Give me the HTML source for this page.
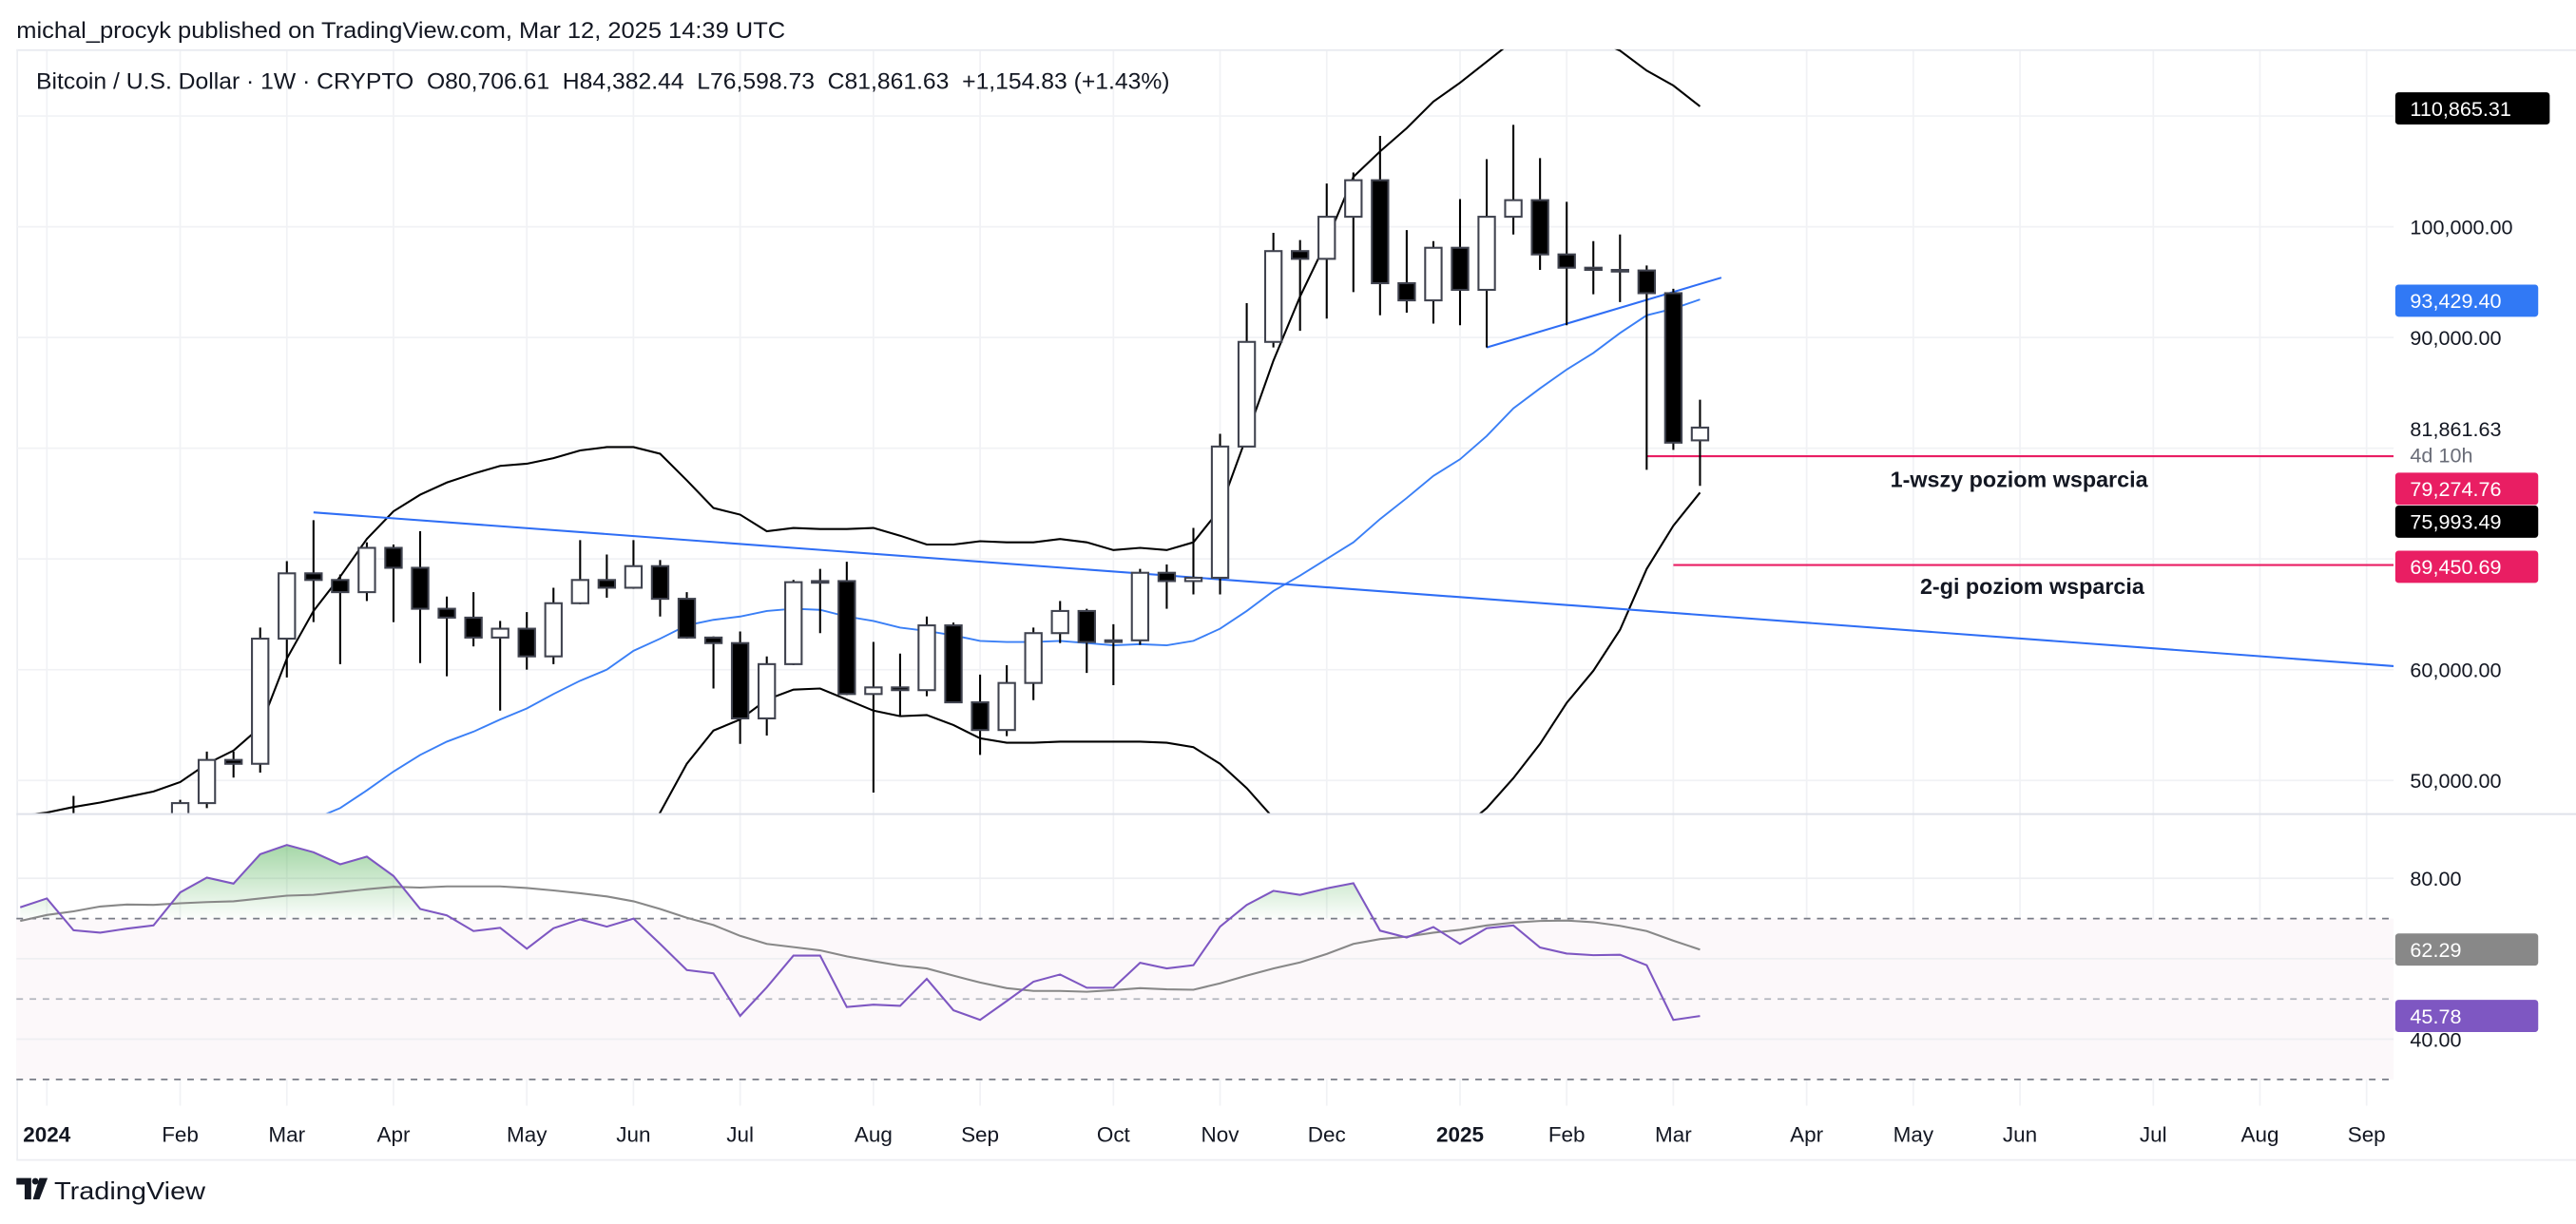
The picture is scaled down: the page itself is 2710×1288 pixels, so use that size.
<!DOCTYPE html>
<html><head><meta charset="utf-8"><title>BTCUSD weekly</title>
<style>
html,body{margin:0;padding:0;background:#fff;}
svg{display:block;font-family:"Liberation Sans",sans-serif;}
</style></head>
<body>
<svg id="chart" xmlns="http://www.w3.org/2000/svg" width="2710" height="1288" viewBox="0 0 1568 745" preserveAspectRatio="none">
  <defs>
    <clipPath id="pricePane"><rect x="10" y="30" width="1447" height="465"/></clipPath>
    <clipPath id="rsiPane"><rect x="10" y="496" width="1447" height="178"/></clipPath>
    <clipPath id="above70"><rect x="10" y="496" width="1447" height="63.1"/></clipPath>
    <linearGradient id="greenFill" gradientUnits="userSpaceOnUse" x1="0" y1="510" x2="0" y2="559">
      <stop offset="0" stop-color="#4caf50" stop-opacity="0.55"/>
      <stop offset="1" stop-color="#4caf50" stop-opacity="0.02"/>
    </linearGradient>
  </defs>
  <rect x="0" y="0" width="1568" height="745" fill="#ffffff"/>
  <text x="10" y="23" font-size="14" fill="#131722" textLength="468" lengthAdjust="spacingAndGlyphs">michal_procyk published on TradingView.com, Mar 12, 2025 14:39 UTC</text>
  <line x1="10" y1="30.5" x2="1568" y2="30.5" stroke="#e8eaef" stroke-width="1"/>
  <line x1="10.5" y1="30" x2="10.5" y2="706" stroke="#eceef2" stroke-width="1"/>
  <g id="grid"></g>
  <rect x="10" y="559.1" width="1447" height="97.9" fill="#fcf8fa"/>
  <g id="rsiGrid"></g>
  <g id="price" clip-path="url(#pricePane)"></g>
  <g id="rsi" clip-path="url(#rsiPane)"></g>
  <line x1="10" y1="495.5" x2="1568" y2="495.5" stroke="#dfe2ea" stroke-width="1.2"/>
  <line x1="10" y1="706" x2="1568" y2="706" stroke="#eceef2" stroke-width="1"/>
  <text x="22" y="54" font-size="14" fill="#131722" textLength="690" lengthAdjust="spacingAndGlyphs">Bitcoin / U.S. Dollar · 1W · CRYPTO&#160;&#160;O80,706.61&#160;&#160;H84,382.44&#160;&#160;L76,598.73&#160;&#160;C81,861.63&#160;&#160;+1,154.83 (+1.43%)</text>
  <g id="axis"></g>
  <text x="1229" y="296.5" font-size="13.5" font-weight="bold" text-anchor="middle" fill="#131722">1-wszy poziom wsparcia</text>
  <text x="1237" y="361.5" font-size="13.5" font-weight="bold" text-anchor="middle" fill="#131722">2-gi poziom wsparcia</text>
  <g>
    <path d="M10 717 h9 v13 h-4 v-9 h-5 z" fill="#131722"/>
    <circle cx="21.5" cy="719" r="2" fill="#131722"/>
    <path d="M24 717 h5 l-5 13 h-4 z" fill="#131722"/>
    <text x="33" y="730" font-size="15" fill="#131722" textLength="92" lengthAdjust="spacingAndGlyphs">TradingView</text>
  </g>
</svg>
<script>
const openP  = [42500,42280,44000,41800,41600,42000,42600,47950,51850,51500,62800,68700,68100,67000,71000,69200,65500,64700,62900,63700,61200,66000,68100,67400,69350,66400,62900,62400,55600,60500,67900,68000,57800,58400,58150,64000,57050,54550,58800,63300,65300,62500,62650,68750,68000,68300,80150,89600,97800,97100,100900,104200,94900,93350,98100,94300,100900,102400,97500,96300,96100,96050,94000,80706.61];
const highP  = [43800,45900,48600,43500,42200,43900,48250,52600,52600,63800,69800,73500,68600,71500,71300,72500,66600,67000,64400,65200,67400,71700,70400,71700,69900,67000,63000,63450,61200,68100,69100,69750,62500,61450,64800,64250,59550,60400,63800,66200,65500,64100,69100,69500,72800,81300,93100,99450,98800,103900,104900,108200,99700,98700,102500,106100,109200,106200,102250,98700,99300,96500,94400,84382.44];
const lowP   = [41600,40750,41500,40300,38500,41800,42300,47500,50250,50700,59300,64300,60500,66200,64300,60600,59400,62100,56300,60000,60500,65900,66500,67300,64800,62800,58300,53300,54050,60400,63300,57700,48900,55800,57600,57000,52300,54000,57250,62400,59700,58600,62250,65500,66800,66800,80150,89100,90600,91700,94100,92000,92240,91250,91100,89100,99300,96100,91100,93900,93200,78050,79850,76598.73];
const closeP = [42280,44000,41800,41600,42000,42600,47950,51850,51500,62800,68700,68100,67000,71000,69200,65500,64700,62900,63700,61200,66000,68100,67400,69350,66400,62900,62400,55600,60500,67900,68000,57800,58400,58150,64000,57050,54550,58800,63300,65300,62500,62650,68750,68000,68300,80150,89600,97800,97100,100900,104200,94900,93350,98100,94300,100900,102400,97500,96300,96100,96100,94000,80500,81861.63];
const bbUpper = [46800,47100,47600,48000,48500,49000,49850,51500,52700,54800,61000,65300,68400,71800,74300,75800,76900,77700,78400,78600,79100,79800,80100,80100,79500,77100,74600,74000,72500,72800,72700,72700,72800,72100,71300,71300,71600,71500,71500,71800,71500,70800,71000,70800,71500,74500,81100,87900,93700,98700,104500,106800,108900,111300,113000,114900,116800,117500,117500,117000,115900,114100,112750,110865.31];
const bbBasis = [41000,41400,41800,42200,42500,42800,43100,43700,44300,45000,45700,46500,47500,49100,50800,52300,53500,54400,55500,56500,57800,59000,60000,61700,62800,64000,64500,64800,65300,65500,65400,64800,64400,63800,63500,63100,62600,62500,62500,62600,62400,62200,62300,62200,62600,63700,65300,67100,68500,70000,71500,73600,75500,77500,79000,81100,83600,85400,87100,88600,90400,92000,92600,93429.40];
const bbLower = [36000,36500,37500,38200,38600,38900,38500,37000,36200,34000,31000,29000,28000,27500,28000,29500,31000,32000,33500,35000,37000,38500,40000,43500,47100,51500,54500,55500,57300,58200,58300,57300,56300,55800,55900,55000,53800,53400,53400,53500,53500,53500,53500,53400,53000,51500,49300,46600,44000,41500,39000,40500,42000,43800,45500,47500,50200,53300,57000,59900,63600,69100,73000,75993.49];
const rsiVals = [72.8,75,67.1,66.5,67.5,68.3,76.5,80.2,78.7,86,88.3,86.5,83.5,85.4,80.6,72.4,70.8,66.9,67.7,62.5,67.6,69.8,68,70,63.7,57.2,56.4,45.8,52.9,60.8,60.8,48,48.6,48.3,55,47.2,44.8,49.5,54.3,56.1,52.8,52.8,59,57.6,58.4,68,73.4,76.9,75.9,77.5,78.8,67,65.3,67.9,63.7,67.6,68.3,62.8,61.3,60.9,61,58.4,44.8,45.78];
const rsiMA   = [69.4,70.9,71.8,73,73.5,73.4,73.8,74.1,74.3,75,75.7,75.9,76.6,77.3,77.9,77.7,78,78,78,77.6,77,76.3,75.5,74.3,72.4,70.2,68.4,65.7,63.7,62.9,62.1,60.6,59.4,58.3,57.6,55.8,54.1,52.7,52,52,51.8,52.2,52.7,52.4,52.3,53.9,55.8,57.6,59.1,61.2,63.7,64.9,65.5,66.5,67.2,68.3,69,69.4,69.5,69.1,68.2,66.9,64.5,62.29];
const monthLabels = ["2024","Feb","Mar","Apr","May","Jun","Jul","Aug","Sep","Oct","Nov","Dec","2025","Feb","Mar","Apr","May","Jun","Jul","Aug","Sep"];
const monthWeekIdx = [1,6,10,14,19,23,27,32,36,41,45,49,54,58,62,67,71,75,80,84,88];
const priceTicks = [50000,60000,70000,80000,90000,100000,110000];
const priceTickLabels = ["50,000.00","60,000.00","","","90,000.00","100,000.00",""];
const rsiTicks = [40,60,80];
const rsiTickLabels = ["40.00","","80.00"];
const trend1 = [[11,74200],[63,64950]];
const trend2 = [[55,89100],[63.8,95400]];
const support1 = 79274.76, support2 = 69450.69;
const support1Start = 61, support2Start = 62;

const NS = "http://www.w3.org/2000/svg";
function xW(j){ return 12.3 + j*16.23; }
function yP(p){ return 138 + (100000 - p)*0.006740; }
function yR(r){ return 559.1 + (70 - r)*2.4475; }
function mk(tag, attrs, parent){ const e=document.createElementNS(NS,tag); for(const k in attrs) e.setAttribute(k, attrs[k]); parent.appendChild(e); return e; }
const grid=document.getElementById('grid'), rsiGrid=document.getElementById('rsiGrid');
const price=document.getElementById('price'), rsi=document.getElementById('rsi'), axis=document.getElementById('axis');

monthWeekIdx.forEach((j,k)=>{
  const x=xW(j);
  const g=mk('line',{x1:x,y1:31,x2:x,y2:673,stroke:'#f1f2f5','stroke-width':1},grid);
  
  
  const bold = /^\d{4}$/.test(monthLabels[k]);
  const t=mk('text',{x:x,y:695,'font-size':13,'text-anchor':'middle',fill:'#131722','font-weight':bold?'bold':'normal'},axis);
  t.textContent=monthLabels[k];
  
  
});
priceTicks.forEach((p,k)=>{
  const y=yP(p);
  const g=mk('line',{x1:10,y1:y,x2:1457,y2:y,stroke:'#f1f2f5','stroke-width':1},grid);
  
  
  if(priceTickLabels[k]){
    const t=mk('text',{x:1467,y:y+4.5,'font-size':12.5,fill:'#131722'},axis);
    t.textContent=priceTickLabels[k];
    
    
  }
});
rsiTicks.forEach((r,k)=>{
  const y=yR(r);
  const g=mk('line',{x1:10,y1:y,x2:1457,y2:y,stroke:'#eeeff2','stroke-width':1},rsiGrid);
  
  
  if(rsiTickLabels[k]){
    const t=mk('text',{x:1467,y:y+4.5,'font-size':12.5,fill:'#131722'},axis);
    t.textContent=rsiTickLabels[k];
    
    
  }
});
[[70,'#787b86'],[50,'#b2b5be'],[30,'#787b86']].forEach(([r,c])=>{
  const y=yR(r);
  const l=mk('line',{x1:10,y1:y,x2:1457,y2:y,stroke:c,'stroke-width':1,'stroke-dasharray':'4 4'},rsiGrid);
  
  
});

function poly(arr, yf){ return arr.map((v,j)=>xW(j).toFixed(2)+','+yf(v).toFixed(2)).join(' '); }
const up=mk('polyline',{points:poly(bbUpper,yP),fill:'none',stroke:'#000','stroke-width':1.2},price);


const lo=mk('polyline',{points:poly(bbLower,yP),fill:'none',stroke:'#000','stroke-width':1.2},price);


const md=mk('polyline',{points:poly(bbBasis,yP),fill:'none',stroke:'#3a7ff6','stroke-width':1.1},price);



function extend(a,b,xEnd){ const x1=xW(a[0]),y1=yP(a[1]),x2=xW(b[0]),y2=yP(b[1]); const s=(y2-y1)/(x2-x1); return [x1,y1,xEnd,y1+s*(xEnd-x1)]; }
const t1=extend(trend1[0],trend1[1],1457);
const tl1=mk('line',{x1:t1[0],y1:t1[1],x2:t1[2],y2:t1[3],stroke:'#2f6ef5','stroke-width':1.2},price);


const tl2=mk('line',{x1:xW(trend2[0][0]),y1:yP(trend2[0][1]),x2:xW(trend2[1][0]),y2:yP(trend2[1][1]),stroke:'#2f6ef5','stroke-width':1.2},price);



const s1=mk('line',{x1:xW(support1Start),y1:yP(support1),x2:1457,y2:yP(support1),stroke:'#e91e63','stroke-width':1.2},price);


const s2=mk('line',{x1:xW(support2Start),y1:yP(support2),x2:1457,y2:yP(support2),stroke:'#e91e63','stroke-width':1.2},price);



openP.forEach((o,j)=>{
  const h=highP[j], l=lowP[j], c=closeP[j], x=xW(j);
  const g=mk('g',{},price);
  
  
  mk('line',{x1:x,y1:yP(h),x2:x,y2:yP(l),stroke:'#000','stroke-width':1.2},g);
  const top=yP(Math.max(o,c)), bot=yP(Math.min(o,c));
  mk('rect',{x:x-5,y:top,width:10,height:Math.max(bot-top,1),fill:c>=o?'#ffffff':'#000000',stroke:'#40434f','stroke-width':1.2},g);
});

const rsiPts=poly(rsiVals,yR);
const area=mk('polygon',{points:xW(0)+','+yR(70)+' '+rsiPts+' '+xW(rsiVals.length-1)+','+yR(70),fill:'url(#greenFill)','clip-path':'url(#above70)'},rsi);


const ma=mk('polyline',{points:poly(rsiMA,yR),fill:'none',stroke:'#888','stroke-width':1.2},rsi);


const rl=mk('polyline',{points:rsiPts,fill:'none',stroke:'#7e57c2','stroke-width':1.2},rsi);



function tag(val, bg, fg, yc, name){
  const g=mk('g',{},axis);
  
  
  if(bg) mk('rect',{x:1458,y:yc-9.8,width:name==='bb-upper-label'?94:87,height:19.6,rx:2,fill:bg},g);
  const t=mk('text',{x:1467,y:yc+4.5,'font-size':12.5,fill:fg},g);
  t.textContent=typeof val==='number'?val.toLocaleString('en-US',{minimumFractionDigits:2,maximumFractionDigits:2}):val;
}
tag(bbUpper[bbUpper.length-1],'#000','#fff',66,'bb-upper-label');
tag(bbBasis[bbBasis.length-1],'#3179f5','#fff',183,'bb-basis-label');
tag(closeP[closeP.length-1],null,'#131722',261,'last-price-label');
tag('4d 10h',null,'#6a6d78',277,'countdown-label');
tag(support1,'#e91e63','#fff',297.5,'support-1-label');
tag(bbLower[bbLower.length-1],'#000','#fff',317.5,'bb-lower-label');
tag(support2,'#e91e63','#fff',345,'support-2-label');
tag(rsiMA[rsiMA.length-1],'#888','#fff',yR(rsiMA[rsiMA.length-1]),'rsi-ma-label');
tag(rsiVals[rsiVals.length-1],'#7e57c2','#fff',yR(rsiVals[rsiVals.length-1]),'rsi-label');
</script>
</body></html>
